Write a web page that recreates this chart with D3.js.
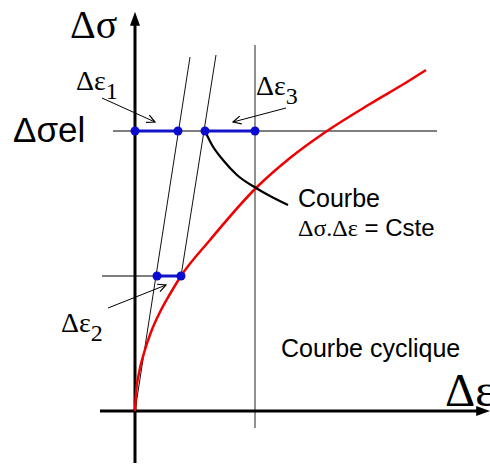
<!DOCTYPE html>
<html>
<head>
<meta charset="utf-8">
<script src="https://cdn.jsdelivr.net/npm/d3@7"></script>
<style>
  body { margin: 0; background: #fff; }
</style>
</head>
<body>
<div id="chart"></div>
<script>
var svgWidth = 490;
var svgHeight = 465;
var serif = "'Liberation Serif', 'DejaVu Serif', 'Times New Roman', serif";
var sans = "'Liberation Sans', Arial, sans-serif";

// cyclic curve (red)
var cyclicEps = [0, 0.01, 0.04, 0.09, 0.16, 0.25, 0.35, 0.46, 0.75, 1.21, 1.55, 1.92, 2.35, 2.72, 2.91];
var cyclicSig = [0, 0.17, 0.38, 0.58, 0.79, 0.99, 1.17, 1.35, 1.71, 2.23, 2.53, 2.80, 3.07, 3.29, 3.41];

// Neuber curve  Δσ.Δε = Cste (black)
var neuberEps = [0.70, 0.77, 0.88, 1.02, 1.21, 1.35, 1.53];
var neuberSig = [2.80, 2.66, 2.51, 2.36, 2.23, 2.15, 2.06];

// stress levels
var sigEl = 2.80;
var sigLow = 1.35;
var epsVert = 1.20;

// elastic lines [x1, y1, x2, y2]
var elasticLines = [
  [0, 0, 0.55, 3.54],
  [0.46, 1.35, 0.81, 3.56]
];

// guide lines [x1, y1, x2, y2]
var guideLines = [
  [-0.22, sigEl, 3.02, sigEl],
  [-0.33, sigLow, 0.46, sigLow],
  [epsVert, 3.66, epsVert, -0.17]
];

// Δε segments [x1, x2, y]
var segments = [
  [0, 0.43, sigEl],
  [0.70, epsVert, sigEl],
  [0.22, 0.46, sigLow]
];

// annotation arrows [x1, y1, x2, y2]
var arrows = [
  [-0.33, 3.13, 0.20, 2.89],
  [1.51, 3.03, 0.98, 2.89],
  [-0.27, 1.03, 0.31, 1.26]
];

var svg = d3.select("#chart")
  .append("svg")
  .attr("width", svgWidth)
  .attr("height", svgHeight);

var x = d3.scaleLinear().domain([0, 1]).range([135, 235]);
var y = d3.scaleLinear().domain([0, 1]).range([411, 311]);

var defs = svg.append("defs");
defs.append("marker")
  .attr("id", "head")
  .attr("viewBox", "0 0 10 10")
  .attr("refX", 9).attr("refY", 5)
  .attr("markerWidth", 10).attr("markerHeight", 10)
  .attr("markerUnits", "userSpaceOnUse")
  .attr("orient", "auto")
  .append("path")
  .attr("d", "M1,1 L9,5 L1,9")
  .attr("fill", "none")
  .attr("stroke", "black")
  .attr("stroke-width", 1.2);

defs.append("marker")
  .attr("id", "axisHead")
  .attr("viewBox", "0 0 10 10")
  .attr("refX", 2).attr("refY", 5)
  .attr("markerWidth", 14).attr("markerHeight", 10)
  .attr("markerUnits", "userSpaceOnUse")
  .attr("orient", "auto")
  .attr("preserveAspectRatio", "none")
  .append("path")
  .attr("d", "M0,0 L10,5 L0,10 Z")
  .attr("fill", "black");

// guide lines
svg.selectAll(".guide")
  .data(guideLines)
  .enter()
  .append("line")
  .attr("x1", d => x(d[0])).attr("y1", d => y(d[1]))
  .attr("x2", d => x(d[2])).attr("y2", d => y(d[3]))
  .attr("stroke", "#555")
  .attr("stroke-width", 1.3);

// elastic lines
svg.selectAll(".elastic")
  .data(elasticLines)
  .enter()
  .append("line")
  .attr("x1", d => x(d[0])).attr("y1", d => y(d[1]))
  .attr("x2", d => x(d[2])).attr("y2", d => y(d[3]))
  .attr("stroke", "#111")
  .attr("stroke-width", 1);

// axes
svg.append("line")
  .attr("x1", x(0)).attr("y1", y(-0.52))
  .attr("x2", x(0)).attr("y2", y(3.88))
  .attr("stroke", "black").attr("stroke-width", 3)
  .attr("marker-end", "url(#axisHead)");

svg.append("line")
  .attr("x1", x(-0.35)).attr("y1", y(0))
  .attr("x2", x(3.44)).attr("y2", y(0))
  .attr("stroke", "black").attr("stroke-width", 3)
  .attr("marker-end", "url(#axisHead)");

// cyclic curve
var line = d3.line()
  .x(d => x(d[0]))
  .y(d => y(d[1]))
  .curve(d3.curveMonotoneX);

svg.append("path")
  .datum(cyclicEps.map((e, i) => [e, cyclicSig[i]]))
  .attr("d", line)
  .attr("fill", "none")
  .attr("stroke", "#f00000")
  .attr("stroke-width", 2.5);

// Neuber curve
svg.append("path")
  .datum(neuberEps.map((e, i) => [e, neuberSig[i]]))
  .attr("d", line)
  .attr("fill", "none")
  .attr("stroke", "black")
  .attr("stroke-width", 2.2);

// blue segments and dots
svg.selectAll(".seg")
  .data(segments)
  .enter()
  .append("line")
  .attr("x1", d => x(d[0])).attr("y1", d => y(d[2]))
  .attr("x2", d => x(d[1])).attr("y2", d => y(d[2]))
  .attr("stroke", "#1414c8")
  .attr("stroke-width", 3);

var dots = [];
segments.forEach(s => { dots.push([s[0], s[2]]); dots.push([s[1], s[2]]); });

svg.selectAll(".dot")
  .data(dots)
  .enter()
  .append("circle")
  .attr("cx", d => x(d[0]))
  .attr("cy", d => y(d[1]))
  .attr("r", 4.5)
  .attr("fill", "#0a0ad0");

// annotation arrows
svg.selectAll(".arrow")
  .data(arrows)
  .enter()
  .append("line")
  .attr("x1", d => x(d[0])).attr("y1", d => y(d[1]))
  .attr("x2", d => x(d[2])).attr("y2", d => y(d[3]))
  .attr("stroke", "black")
  .attr("stroke-width", 1)
  .attr("marker-end", "url(#head)");

// labels
function sub(main, s, xv, yv, size, subSize) {
  var el = svg.append("text")
    .attr("x", x(xv)).attr("y", y(yv))
    .style("font-family", serif)
    .style("font-size", size + "px");
  el.append("tspan").text(main);
  el.append("tspan").attr("dy", 9).style("font-size", subSize + "px").text(s);
}

svg.append("text")
  .attr("x", x(-0.65)).attr("y", y(3.73))
  .style("font-family", serif)
  .style("font-size", "40px")
  .text("Δσ");

svg.append("text")
  .attr("x", x(-1.22)).attr("y", y(2.69))
  .style("font-family", sans)
  .style("font-size", "35px")
  .text("Δσel");

sub("Δε", "1", -0.59, 3.21, 28, 24);
sub("Δε", "3", 1.21, 3.16, 28, 24);
sub("Δε", "2", -0.74, 0.79, 28, 24);

svg.append("text")
  .attr("x", x(1.63)).attr("y", y(2.04))
  .style("font-family", sans)
  .style("font-size", "25px")
  .text("Courbe");

var t2 = svg.append("text")
  .attr("x", x(1.63)).attr("y", y(1.75))
  .style("font-size", "24px");
t2.append("tspan").style("font-family", serif).text("Δσ.Δε");
t2.append("tspan").style("font-family", sans).text(" = Cste");

svg.append("text")
  .attr("x", x(1.46)).attr("y", y(0.54))
  .style("font-family", sans)
  .style("font-size", "25px")
  .text("Courbe cyclique");

svg.append("text")
  .attr("x", x(3.10)).attr("y", y(0.05))
  .style("font-family", serif)
  .style("font-size", "47px")
  .text("Δε");
</script>
</body>
</html>
